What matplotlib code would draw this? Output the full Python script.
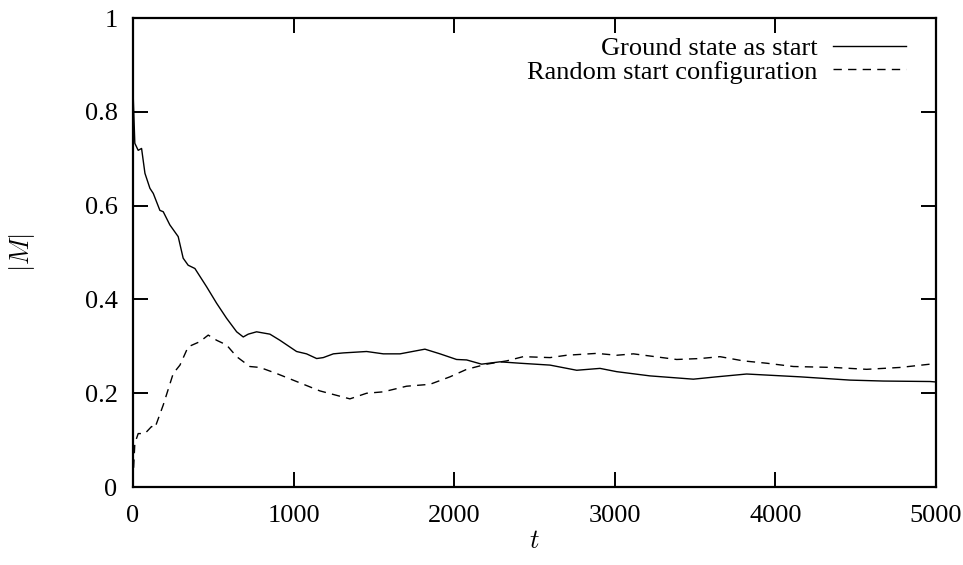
import matplotlib.pyplot as plt

plt.rcParams['font.family'] = ['Liberation Serif', 'DejaVu Serif']
plt.rcParams['mathtext.fontset'] = 'cm'

# ground state as start (solid)
t_ground = [0, 12, 33, 54, 75, 106, 127, 168, 189, 230, 282, 313, 344, 386, 459,
            521, 583, 646, 687, 718, 770, 853, 915, 1019, 1081, 1144, 1185, 1248,
            1310, 1455, 1559, 1663, 1818, 1912, 2015, 2078, 2171, 2285, 2410, 2597,
            2763, 2908, 3012, 3219, 3489, 3634, 3821, 4153, 4465, 4672, 4963, 5000]
m_ground = [0.853, 0.733, 0.718, 0.722, 0.669, 0.637, 0.626, 0.590, 0.587, 0.559,
            0.534, 0.488, 0.473, 0.466, 0.427, 0.392, 0.360, 0.331, 0.320, 0.326,
            0.331, 0.326, 0.313, 0.289, 0.284, 0.274, 0.276, 0.284, 0.286, 0.289,
            0.284, 0.284, 0.294, 0.284, 0.272, 0.271, 0.262, 0.267, 0.264, 0.260,
            0.249, 0.253, 0.246, 0.237, 0.230, 0.235, 0.241, 0.235, 0.228, 0.226,
            0.225, 0.224]

# random start configuration (dashed)
t_random = [0, 12, 33, 75, 116, 137, 189, 251, 293, 344, 417, 469, 521, 583, 646,
            728, 791, 895, 1019, 1164, 1351, 1455, 1559, 1704, 1849, 1974, 2078,
            2202, 2327, 2430, 2597, 2700, 2887, 3012, 3116, 3385, 3531, 3655, 3800,
            3946, 4112, 4361, 4568, 4776, 4963, 5000]
m_random = [0.01, 0.093, 0.114, 0.114, 0.129, 0.126, 0.175, 0.242, 0.260, 0.299,
            0.310, 0.324, 0.313, 0.303, 0.278, 0.257, 0.255, 0.242, 0.225, 0.205,
            0.188, 0.200, 0.203, 0.215, 0.219, 0.235, 0.251, 0.262, 0.269, 0.278,
            0.276, 0.281, 0.285, 0.281, 0.284, 0.272, 0.274, 0.278, 0.269, 0.264,
            0.257, 0.255, 0.251, 0.255, 0.262, 0.263]

fig = plt.figure(figsize=(9.63, 5.65), dpi=100)
ax = fig.add_axes([0.138, 0.138, 0.834, 0.830])

ax.plot(t_ground, m_ground, 'k-', linewidth=1.0, label='Ground state as start')
ax.plot(t_random, m_random, color='k', linestyle=(0, (6, 4.5)), linewidth=1.0,
        label='Random start configuration')

ax.set_xlim(0, 5000)
ax.set_ylim(0, 1)
ax.set_xticks([0, 1000, 2000, 3000, 4000, 5000])
ax.set_yticks([0, 0.2, 0.4, 0.6, 0.8, 1])
ax.set_yticklabels(['0', '0.2', '0.4', '0.6', '0.8', '1'])

ax.tick_params(direction='in', top=True, right=True, length=11, width=1.4,
               labelsize=19)
ax.tick_params(axis='x', pad=13)
ax.tick_params(axis='y', pad=11)
for s in ax.spines.values():
    s.set_linewidth(1.6)

ax.set_xlabel('$t$', fontsize=19, labelpad=3)
ax.set_ylabel('$|M|$', fontsize=19, labelpad=34)

ax.legend(loc='upper right', bbox_to_anchor=(0.982, 0.994), frameon=False,
          markerfirst=False, fontsize=19, handlelength=2.75, labelspacing=0.0,
          handletextpad=0.6, borderaxespad=0.2)

plt.savefig('out.png', dpi=100)
